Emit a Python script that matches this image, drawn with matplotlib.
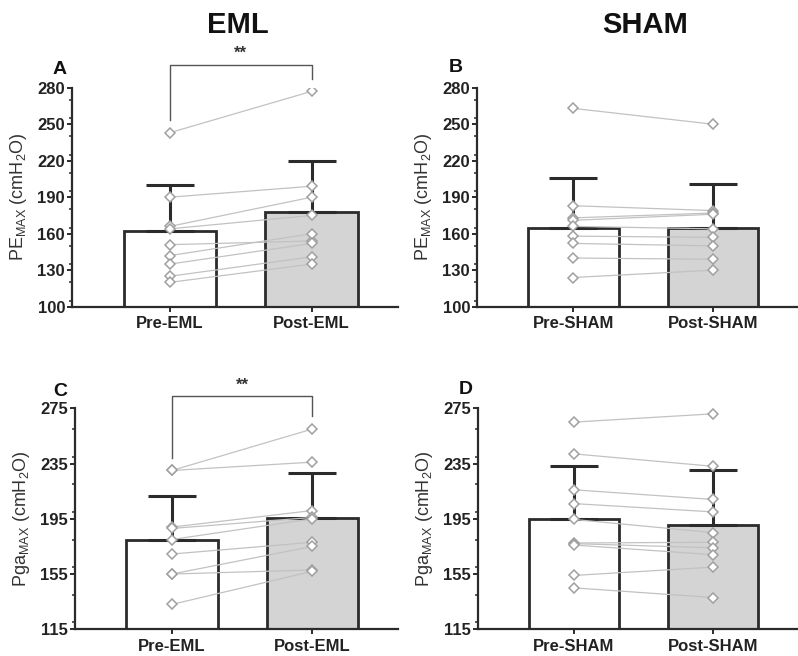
import matplotlib
matplotlib.use("Agg")
import matplotlib.pyplot as plt
from matplotlib.ticker import MultipleLocator

plt.rcParams['font.family'] = ['Liberation Sans', 'DejaVu Sans']
plt.rcParams['mathtext.fontset'] = 'custom'
plt.rcParams['mathtext.rm'] = 'Liberation Sans'

# --- data ---
groups_eml = ['Pre-EML', 'Post-EML']
groups_sham = ['Pre-SHAM', 'Post-SHAM']

# PEmax (cmH2O)
pe_eml_pre = [243, 190, 166, 164, 151, 142, 135, 125, 120]
pe_eml_post = [277, 199, 190, 175, 154, 160, 152, 141, 135]
pe_eml_mean = [162, 178]
pe_eml_sd = [38, 42]

pe_sham_pre = [263, 183, 173, 171, 166, 158, 152, 140, 124]
pe_sham_post = [250, 179, 177, 176, 164, 157, 150, 139, 130]
pe_sham_mean = [165, 164.5]
pe_sham_sd = [41, 36]

# PgaMAX (cmH2O)
pga_eml_pre = [230, 230, 189, 188, 180, 169.5, 155, 155, 133]
pga_eml_post = [260, 236, 201, 196, 195, 178, 175, 158, 157]
pga_eml_mean = [180, 195.4]
pga_eml_sd = [31.5, 32.6]

pga_sham_pre = [265, 242, 216, 206, 194.5, 177.5, 177, 176, 154, 145]
pga_sham_post = [271, 233, 209, 200, 185, 178, 174, 169, 160, 138]
pga_sham_mean = [194.6, 190.8]
pga_sham_sd = [38.6, 39.2]

pe_ticks = [100, 130, 160, 190, 220, 250, 280]
pga_ticks = [115, 155, 195, 235, 275]

edge = '#2b2b2b'

fig = plt.figure(figsize=(7.98, 6.56), dpi=100)
W, H = 798.0, 656.0


def make_ax(x0, x1, ytop, ybot):
    return fig.add_axes([x0 / W, 1 - ybot / H, (x1 - x0) / W, (ybot - ytop) / H])


def panel(ax, labels, pre, post, mean, sd, ticks, ylabel):
    x = [0, 1]
    ax.bar(x, mean, width=0.65, color=['white', '#d4d4d4'], edgecolor=edge,
           linewidth=2, zorder=1)
    for i in x:
        ax.errorbar(i, mean[i], yerr=[[0], [sd[i]]], fmt='none', ecolor=edge,
                    elinewidth=2.2, capsize=17, capthick=2.2, zorder=2)
    for a, b in zip(pre, post):
        ax.plot(x, [a, b], color='#c2c2c2', lw=0.9, zorder=3,
                marker='D', ms=5.5, mfc='white', mec='#a0a0a0', mew=1.1)
    ax.set_xlim(-0.69, 1.61)
    ax.set_ylim(ticks[0], ticks[-1])
    ax.set_yticks(ticks)
    step = ticks[1] - ticks[0]
    ax.yaxis.set_minor_locator(MultipleLocator(step / 2))
    ax.set_xticks(x)
    ax.set_xticklabels(labels, fontsize=12, fontweight='bold', color='#222222')
    for t in ax.get_yticklabels():
        t.set_fontsize(12)
        t.set_fontweight('bold')
        t.set_color('#222222')
    for s in ['top', 'right']:
        ax.spines[s].set_visible(False)
    for s in ['left', 'bottom']:
        ax.spines[s].set_color(edge)
        ax.spines[s].set_linewidth(1.6)
    ax.tick_params(axis='both', which='major', length=3.5, width=1.4, color=edge)
    ax.tick_params(axis='y', which='minor', length=2.5, width=1.1, color=edge)
    ax.tick_params(axis='x', pad=3.5)
    ax.tick_params(axis='y', pad=1.5)
    ax.set_ylabel(ylabel, fontsize=13, color='#333333', labelpad=6)


def bracket(ax, ytop, yleft, yright, ystar):
    ax.plot([0, 0, 1, 1], [yleft, ytop, ytop, yright], color='#555555',
            lw=1.0, clip_on=False, zorder=4)
    ax.text(0.5, ystar, '**', ha='center', va='center', fontsize=12,
            fontweight='bold', color='#333333', clip_on=False)


pe_label = r'PE$_\mathregular{MAX}$ (cmH$_\mathregular{2}$O)'
pga_label = r'Pga$_\mathregular{MAX}$ (cmH$_\mathregular{2}$O)'

axA = make_ax(72, 398, 87.7, 306.7)
panel(axA, groups_eml, pe_eml_pre, pe_eml_post, pe_eml_mean, pe_eml_sd,
      pe_ticks, pe_label)
bracket(axA, 298.6, 253.5, 287, 308)

axB = make_ax(477, 798, 87.7, 306.7)
panel(axB, groups_sham, pe_sham_pre, pe_sham_post, pe_sham_mean, pe_sham_sd,
      pe_ticks, pe_label)

axC = make_ax(75, 398, 408.3, 629.3)
panel(axC, groups_eml, pga_eml_pre, pga_eml_post, pga_eml_mean, pga_eml_sd,
      pga_ticks, pga_label)
bracket(axC, 283.9, 238.8, 269.4, 292)

axD = make_ax(478, 798, 408.3, 629.3)
panel(axD, groups_sham, pga_sham_pre, pga_sham_post, pga_sham_mean, pga_sham_sd,
      pga_ticks, pga_label)

# panel letters
for letter, px, py in [('A', 60, 70), ('B', 456, 67), ('C', 60, 391), ('D', 466, 390)]:
    fig.text(px / W, 1 - py / H, letter, ha='center', va='center', fontsize=14,
             fontweight='bold', color='#111111')

fig.text(238 / W, 1 - 25 / H, 'EML', ha='center', va='center', fontsize=21,
         fontweight='bold', color='#111111')
fig.text(645 / W, 1 - 25 / H, 'SHAM', ha='center', va='center', fontsize=21,
         fontweight='bold', color='#111111')

fig.savefig('out.png', dpi=100)
